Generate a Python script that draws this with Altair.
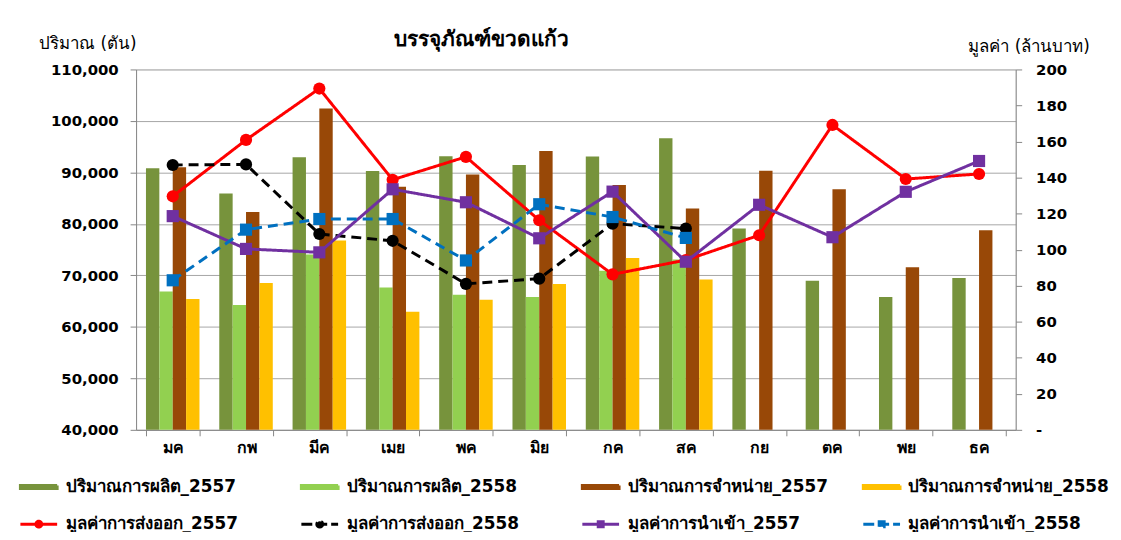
import altair as alt
import pandas as pd

months = ["มค", "กพ", "มีค", "เมย", "พค", "มิย", "กค", "สค", "กย", "ตค", "พย", "ธค"]

# Bars (left axis, tonnes)
prod_2557 = [90800, 85900, 92970, 90270, 93160, 91430, 93090, 96630, 79090, 68980, 65780, 69500]
prod_2558 = [66860, 64240, 74070, 67630, 66220, 65780, 70910, 73110, None, None, None, None]
sales_2557 = [91000, 82290, 102420, 87240, 89600, 94180, 87570, 83000, 90330, 86720, 71570, 78760]
sales_2558 = [65400, 68540, 76770, 62950, 65260, 68350, 73360, 69180, None, None, None, None]

# Lines (right axis, million baht)
export_2557 = [129.6, 160.9, 189.4, 138.8, 151.5, 116.3, 86.3, 94.2, 108.0, 169.2, 139.2, 142.0]
export_2558 = [147.0, 147.3, 108.7, 104.9, 81.0, 83.9, 114.4, 111.7, None, None, None, None]
import_2557 = [118.6, 100.4, 98.5, 133.5, 126.3, 106.3, 132.2, 93.3, 124.9, 106.9, 132.1, 149.2]
import_2558 = [83.0, 111.1, 117.0, 117.0, 94.0, 125.2, 118.1, 106.5, None, None, None, None]

bar_names = ["ปริมาณการผลิต_2557", "ปริมาณการผลิต_2558", "ปริมาณการจำหน่าย_2557", "ปริมาณการจำหน่าย_2558"]
bar_colors = ["#77933C", "#92D050", "#984807", "#FFC000"]
line_names = ["มูลค่าการส่งออก_2557", "มูลค่าการส่งออก_2558", "มูลค่าการนำเข้า_2557", "มูลค่าการนำเข้า_2558"]
line_colors = ["#FF0000", "#000000", "#7030A0", "#0070C0"]
line_dashed = [False, True, False, True]
line_markers = ["circle", "circle", "square", "square"]

FONT = "DejaVu Sans"

bar_rows = []
for name, vals in zip(bar_names, [prod_2557, prod_2558, sales_2557, sales_2558]):
    for m, v in zip(months, vals):
        if v is not None:
            bar_rows.append({"month": m, "series": name, "value": v})
bar_df = pd.DataFrame(bar_rows)

line_rows = []
for name, vals in zip(line_names, [export_2557, export_2558, import_2557, import_2558]):
    for m, v in zip(months, vals):
        if v is not None:
            line_rows.append({"month": m, "series": name, "value": v})
line_df = pd.DataFrame(line_rows)

x_enc = alt.X(
    "month:N", sort=months, title=None,
    scale=alt.Scale(paddingInner=0.27, paddingOuter=0.135),
    axis=alt.Axis(labelAngle=0, tickBand="extent", labelFont=FONT, labelFontSize=16,
                  labelFontWeight="bold", labelColor="#000000", domainColor="#868686",
                  tickColor="#868686", tickSize=6, labelPadding=4, grid=False),
)

left_axis = alt.Axis(
    values=list(range(40000, 110001, 10000)), format=",d", labelFont=FONT, labelFontSize=15,
    labelFontWeight="bold", labelColor="#000000", domainColor="#868686", tickColor="#868686",
    tickSize=6, labelPadding=12, grid=True, gridColor="#A6A6A6",
    title="ปริมาณ (ตัน)", titleAngle=0, titleX=-49, titleY=-26, titleAlign="center",
    titleBaseline="middle", titleFont=FONT, titleFontSize=17, titleFontWeight="normal",
    titleColor="#000000",
)

bars = alt.Chart(bar_df).mark_bar().encode(
    x=x_enc,
    xOffset=alt.XOffset("series:N", sort=bar_names, scale=alt.Scale(paddingInner=0, paddingOuter=0)),
    y=alt.Y("value:Q", scale=alt.Scale(domain=[40000, 110000], zero=False, nice=False), axis=left_axis),
    y2=alt.datum(40000),
    color=alt.Color("series:N", scale=alt.Scale(domain=bar_names, range=bar_colors), legend=None),
)

right_axis = alt.Axis(
    orient="right", values=list(range(0, 201, 20)),
    labelExpr="datum.value == 0 ? '-' : datum.label",
    labelFont=FONT, labelFontSize=15, labelFontWeight="bold", labelColor="#000000",
    domainColor="#868686", tickColor="#868686", tickSize=6, labelPadding=14, grid=False,
    title="มูลค่า (ล้านบาท)", titleAngle=0, titleX=13, titleY=-23, titleAlign="center",
    titleBaseline="middle", titleFont=FONT, titleFontSize=17, titleFontWeight="normal",
    titleColor="#000000",
)
y_right = alt.Y("value:Q", scale=alt.Scale(domain=[0, 200], nice=False), axis=right_axis)

line_layers = []
point_layers = []
for name, col, dashed, marker in zip(line_names, line_colors, line_dashed, line_markers):
    base = alt.Chart(line_df).transform_filter(alt.datum.series == name)
    line_layers.append(
        base.mark_line(color=col, strokeWidth=3, strokeDash=[10, 6] if dashed else [1, 0]).encode(
            x=alt.X("month:N", sort=months), y=y_right
        )
    )
    point_layers.append(
        base.mark_point(shape=marker, filled=True, color=col, opacity=1, size=150).encode(
            x=alt.X("month:N", sort=months), y=y_right
        )
    )

lines = alt.layer(*line_layers, *point_layers)

# Legend (from an empty layer whose scales list every series)
legend_names = bar_names + line_names
legend_colors = bar_colors + line_colors
rect_path = "M-1,-0.08H1V0.08H-1Z"
circ_path = "M-1,0H1M0.16,0A0.16,0.16,0,1,1,-0.16,0A0.16,0.16,0,1,1,0.16,0Z"
sq_path = "M-1,0H1M-0.135,-0.135H0.135V0.135H-0.135Z"
legend_shapes = [rect_path] * 4 + [circ_path, circ_path, sq_path, sq_path]
legend_dashes = [[1, 0]] * 4 + [[1, 0], [11, 4], [1, 0], [11, 4]]

leg = alt.Legend(
    title=None, orient="none", legendX=-118, legendY=400, direction="horizontal",
    columns=4, gridAlign="all", symbolSize=1369, symbolStrokeWidth=3,
    labelFont=FONT, labelFontSize=17, labelFontWeight="bold", labelColor="#000000",
    labelOffset=7, labelLimit=400, columnPadding=26, rowPadding=9, padding=0,
)
legend_df = pd.DataFrame({"series": legend_names})
legend_layer = alt.Chart(legend_df).transform_filter("false").mark_point(filled=True, opacity=1).encode(
    fill=alt.Fill("series:N", scale=alt.Scale(domain=legend_names, range=legend_colors), legend=leg),
    stroke=alt.Stroke("series:N", scale=alt.Scale(domain=legend_names, range=legend_colors), legend=leg),
    shape=alt.Shape("series:N", scale=alt.Scale(domain=legend_names, range=legend_shapes), legend=leg),
    strokeDash=alt.StrokeDash("series:N", scale=alt.Scale(domain=legend_names, range=legend_dashes), legend=leg),
)

chart = alt.layer(bars, lines, legend_layer).resolve_scale(
    y="independent", color="independent"
).properties(
    width=886, height=363,
    title=alt.TitleParams(text="บรรจุภัณฑ์ขวดแก้ว", font=FONT, fontSize=21, fontWeight="bold",
                          color="#000000", anchor="middle", dx=-95, dy=29, offset=14),
    autosize=alt.AutoSizeParams(type="none"),
    padding={"left": 129, "top": 60, "right": 98, "bottom": 101},
).configure_view(stroke=None).configure(background="white")

chart.save("out.html", embed_options={"renderer": "svg", "actions": False})
